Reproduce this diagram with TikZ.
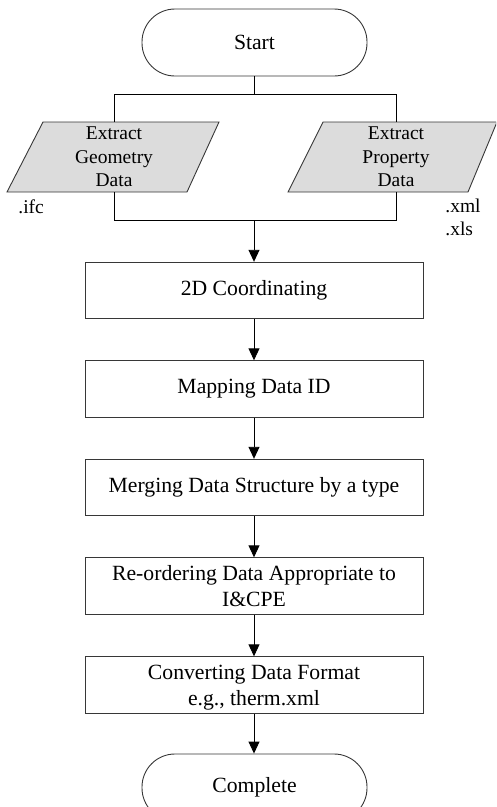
\documentclass[tikz,border=0pt]{standalone}
\usepackage{fontspec}
\setmainfont{Liberation Serif}
\usetikzlibrary{arrows.meta}
\definecolor{pfill}{RGB}{220,220,220}
\definecolor{edge}{RGB}{55,55,55}
\begin{document}
\begin{tikzpicture}[x=1pt,y=-1pt,line width=0.9pt,
  box/.style={draw=edge,rectangle,minimum width=338pt,minimum height=56.5pt,inner sep=0pt,align=center,font=\fontsize{21.7}{26}\selectfont},
  term/.style={draw=edge,rectangle,rounded corners=33pt,minimum width=225pt,minimum height=67pt,inner sep=0pt,font=\fontsize{21.7}{26}\selectfont},
  para/.style={draw=edge,fill=pfill},
  ptext/.style={align=center,inner sep=0pt,font=\fontsize{19.5}{23.5}\selectfont},
  lbl/.style={inner sep=0pt,font=\fontsize{19.5}{23.5}\selectfont},
  arr/.style={-{Triangle[length=12pt,width=11pt]}}]
\clip (0,0) rectangle (496,807);
% terminals
\node[term] (start) at (254.5,42.5) {Start};
\node[term] (complete) at (254.5,787.5) {Complete};
% parallelograms
\path[para] (43,122) -- (219,122) -- (187,192) -- (7,192) -- cycle;
\path[para] (323,122) -- (497,122) -- (468,192) -- (288,192) -- cycle;
\node[ptext] (geo) at (114,157) {Extract\\Geometry\\Data};
\node[ptext] (prop) at (396,157) {Extract\\Property\\Data};
\coordinate (geoT) at (114,122);
\coordinate (geoB) at (114,192);
\coordinate (propT) at (396,122);
\coordinate (propB) at (396,192);
\coordinate (split) at (254.5,94);
\coordinate (join) at (254,220);
% labels
\node[lbl,anchor=base west] (ifc) at (18,213) {.ifc};
\node[lbl,anchor=base west] (xml) at (445,212) {.xml};
\node[lbl,anchor=base west] (xls) at (445,235) {.xls};
% process boxes
\node[box] (b1) at (254,290.5) {2D Coordinating};
\node[box] (b2) at (254,389) {Mapping Data ID};
\node[box] (b3) at (254,487.5) {Merging Data Structure by a type};
\node[box] (b4) at (254,586) {Re-ordering Data Appropriate to\\\smash{I\&CPE}};
\node[box] (b5) at (254,685) {Converting Data Format\\\smash{e.g., therm.xml}};
% connectors
\draw (start.south) -- (split);
\draw (geoT) -- (geoT |- split) -- (propT |- split) -- (propT);
\draw (geoB) -- (geoB |- join) -- (propB |- join) -- (propB);
\draw[arr] (join) -- (b1.north);
\draw[arr] (b1.south) -- (b2.north);
\draw[arr] (b2.south) -- (b3.north);
\draw[arr] (b3.south) -- (b4.north);
\draw[arr] (b4.south) -- (b5.north);
\draw[arr] (b5.south) -- (b5.south |- complete.north);
\end{tikzpicture}
\end{document}
